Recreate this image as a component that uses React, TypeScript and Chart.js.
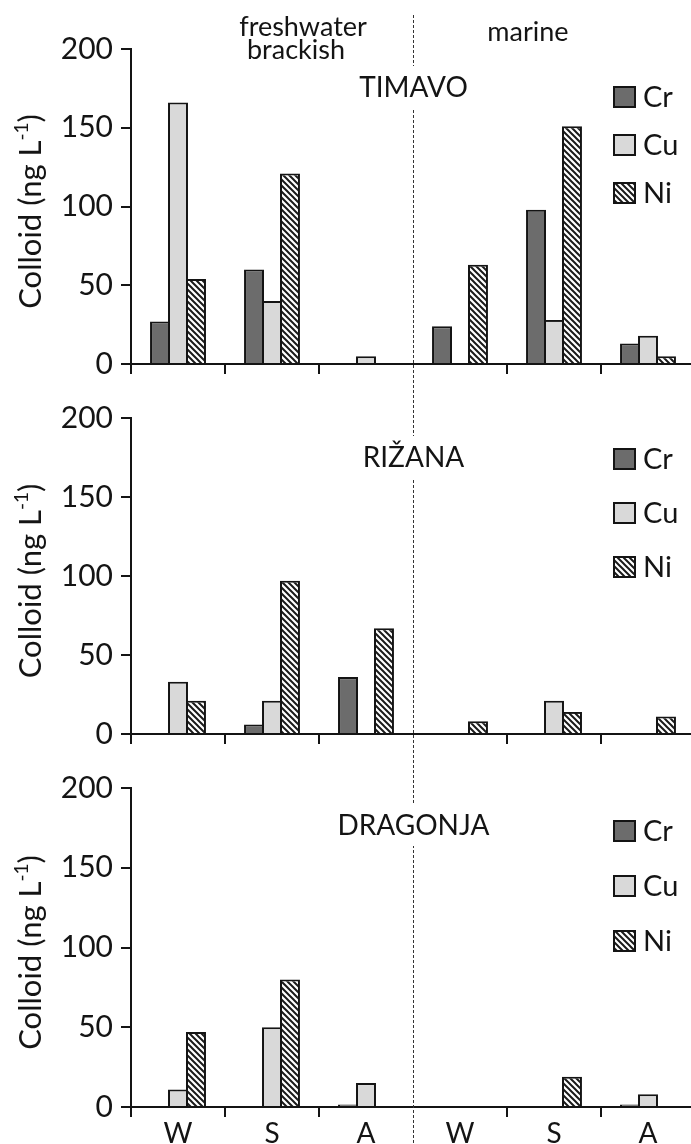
import React, { useEffect, useRef } from "react";
import { Chart, registerables } from "chart.js";
Chart.register(...registerables);

const categories = ["W", "S", "A", "W", "S", "A"];
const metals = ["Cr", "Cu", "Ni"];
const rivers = ["TIMAVO", "RIŽANA", "DRAGONJA"];
const zoneFresh = ["freshwater", "brackish"];
const zoneMarine = "marine";
const yTicks = [0, 50, 100, 150, 200];
const yTitleMain = "Colloid (ng L";
const yTitleSup = "-1";
const yTitleEnd = ")";

const timavoCr = [27, 60, 0, 24, 98, 13];
const timavoCu = [166, 40, 5, 0, 28, 18];
const timavoNi = [54, 121, 0, 63, 151, 5];

const rizanaCr = [0, 6, 36, 0, 0, 0];
const rizanaCu = [33, 21, 0, 0, 21, 0];
const rizanaNi = [21, 97, 67, 8, 14, 11];

const dragonjaCr = [0, 0, 1.5, 0, 0, 1.5];
const dragonjaCu = [11, 50, 15, 0, 0, 8];
const dragonjaNi = [47, 80, 0, 0, 19, 0];

const FONT = "Lato, 'Open Sans', sans-serif";
const CR_COLOR = "#6c6c6c";
const CU_COLOR = "#d9d9d9";
const INK = "#141414";

type PanelCfg = {
  top: number;
  height: number;
  padTop: number;
  xH: number;
  showLabels: boolean;
  showZones: boolean;
  dashTop: number;
  titleOff: number;
  legendTop: number;
  legendGap: number;
};

const panelCfgs: PanelCfg[] = [
  { top: 0, height: 390, padTop: 49, xH: 22, showLabels: false, showZones: true, dashTop: 15, titleOff: 38, legendTop: 48, legendGap: 48 },
  { top: 390, height: 370, padTop: 28, xH: 23, showLabels: false, showZones: false, dashTop: 0, titleOff: 39, legendTop: 41, legendGap: 54 },
  { top: 760, height: 384, padTop: 28, xH: 37, showLabels: true, showZones: false, dashTop: 0, titleOff: 37, legendTop: 43, legendGap: 55 },
];

const panelData = [
  [timavoCr, timavoCu, timavoNi],
  [rizanaCr, rizanaCu, rizanaNi],
  [dragonjaCr, dragonjaCu, dragonjaNi],
];

function makeHatch(): CanvasPattern | string {
  const c = document.createElement("canvas");
  const s = 6;
  c.width = s;
  c.height = s;
  const g = c.getContext("2d");
  if (!g) return "#888";
  g.fillStyle = "#ffffff";
  g.fillRect(0, 0, s, s);
  g.strokeStyle = "#1a1a1a";
  g.lineWidth = 2;
  g.beginPath();
  g.moveTo(-2, -2);
  g.lineTo(s + 2, s + 2);
  g.moveTo(-2, s - 2);
  g.lineTo(2, s + 2);
  g.moveTo(s - 2, -2);
  g.lineTo(s + 2, 2);
  g.stroke();
  return g.createPattern(c, "repeat") || "#888";
}

function Panel({ idx }: { idx: number }) {
  const ref = useRef<HTMLCanvasElement>(null);
  const cfg = panelCfgs[idx];
  useEffect(() => {
    if (!ref.current) return;
    const hatch = makeHatch();
    const colors: any[] = [CR_COLOR, CU_COLOR, hatch];
    const [a, b, c] = panelData[idx];

    const overlay = {
      id: "overlay" + idx,
      beforeDatasetsDraw(chart: any) {
        const ctx = chart.ctx;
        const xs = chart.scales.x;
        const sx = Math.round((xs.getPixelForValue(2) + xs.getPixelForValue(3)) / 2) + 0.5;
        ctx.save();
        ctx.setLineDash([3, 2]);
        ctx.strokeStyle = "#333";
        ctx.lineWidth = 1;
        ctx.beginPath();
        ctx.moveTo(sx, cfg.dashTop);
        ctx.lineTo(sx, chart.height);
        ctx.stroke();
        ctx.restore();
      },
      afterDraw(chart: any) {
        const ctx = chart.ctx;
        const area = chart.chartArea;
        const xs = chart.scales.x;
        const sx = Math.round((xs.getPixelForValue(2) + xs.getPixelForValue(3)) / 2) + 0.5;
        ctx.save();
        // river title with white background
        ctx.font = `28px ${FONT}`;
        ctx.textAlign = "center";
        ctx.textBaseline = "middle";
        const title = rivers[idx];
        const tw = ctx.measureText(title).width;
        const ty = area.top + cfg.titleOff;
        ctx.fillStyle = "#ffffff";
        ctx.fillRect(sx - tw / 2 - 3, ty - 21, tw + 6, 42);
        ctx.fillStyle = INK;
        ctx.fillText(title, sx, ty + 1);

        // zone labels
        if (cfg.showZones) {
          ctx.font = `27px ${FONT}`;
          ctx.fillText(zoneFresh[0], 303, 27);
          ctx.fillText(zoneFresh[1], 296, 50);
          ctx.fillText(zoneMarine, 528, 32);
        }

        // legend
        const lx = 614;
        chart.data.datasets.forEach((ds: any, i: number) => {
          const cy = area.top + cfg.legendTop + i * cfg.legendGap;
          ctx.fillStyle = ds.backgroundColor;
          ctx.fillRect(lx, cy - 10, 21, 20);
          ctx.strokeStyle = INK;
          ctx.lineWidth = 2;
          ctx.strokeRect(lx, cy - 10, 21, 20);
          ctx.fillStyle = INK;
          ctx.font = `29px ${FONT}`;
          ctx.textAlign = "left";
          ctx.textBaseline = "middle";
          ctx.fillText(ds.label, lx + 29, cy + 1);
        });

        // y title with superscript
        const cyT = (area.top + area.bottom) / 2 + 5;
        ctx.translate(31, cyT);
        ctx.rotate(-Math.PI / 2);
        ctx.textAlign = "left";
        ctx.textBaseline = "middle";
        const big = `31px ${FONT}`;
        const small = `19px ${FONT}`;
        ctx.font = big;
        const w1 = ctx.measureText(yTitleMain).width;
        const w3 = ctx.measureText(yTitleEnd).width;
        ctx.font = small;
        const w2 = ctx.measureText(yTitleSup).width;
        let x0 = -(w1 + w2 + w3) / 2;
        ctx.fillStyle = INK;
        ctx.font = big;
        ctx.fillText(yTitleMain, x0, 0);
        x0 += w1;
        ctx.font = small;
        ctx.fillText(yTitleSup, x0, -9);
        x0 += w2;
        ctx.font = big;
        ctx.fillText(yTitleEnd, x0, 0);
        ctx.restore();
      },
    };

    const mk = (label: string, data: number[], color: any) => ({
      label,
      data,
      backgroundColor: color,
      borderColor: INK,
      borderWidth: 2,
      borderSkipped: "start" as const,
      categoryPercentage: 0.574,
      barPercentage: 1.11,
    });

    const chart = new Chart(ref.current, {
      type: "bar",
      data: {
        labels: categories,
        datasets: [mk(metals[0], a, colors[0]), mk(metals[1], b, colors[1]), mk(metals[2], c, colors[2])],
      },
      options: {
        responsive: false,
        animation: false,
        layout: { padding: { top: cfg.padTop, left: 0, right: 5, bottom: 0 } },
        plugins: { legend: { display: false }, tooltip: { enabled: false }, title: { display: false } },
        scales: {
          x: {
            offset: true,
            grid: {
              offset: true,
              drawOnChartArea: false,
              tickLength: 10,
              lineWidth: 2,
              color: (ctx: any) => (ctx.index === 3 ? "rgba(0,0,0,0)" : INK),
            },
            border: { display: true, color: INK, width: 2 },
            ticks: {
              display: cfg.showLabels,
              color: INK,
              padding: 0,
              font: { family: FONT, size: 28 },
            },
            afterFit: (s: any) => {
              s.height = cfg.xH;
            },
          },
          y: {
            min: yTicks[0],
            max: yTicks[yTicks.length - 1],
            afterBuildTicks: (s: any) => {
              s.ticks = yTicks.map((v) => ({ value: v }));
            },
            grid: { drawOnChartArea: false, tickLength: 10, lineWidth: 2, color: INK },
            border: { display: true, color: INK, width: 2 },
            ticks: { color: INK, padding: 8, font: { family: FONT, size: 30 } },
            afterFit: (s: any) => {
              s.width = 131;
            },
          },
        },
      },
      plugins: [overlay],
    });
    return () => chart.destroy();
  }, [idx]);
  return (
    <canvas
      ref={ref}
      width={700}
      height={cfg.height}
      style={{ position: "absolute", left: 0, top: cfg.top, display: "block", width: 700, height: cfg.height }}
    />
  );
}

export default function App() {
  return (
    <div
      style={{
        position: "absolute",
        left: 0,
        top: 0,
        width: 691,
        height: 1144,
        overflow: "hidden",
        background: "#ffffff",
      }}
    >
      {panelCfgs.map((_, i) => (
        <Panel key={i} idx={i} />
      ))}
    </div>
  );
}
